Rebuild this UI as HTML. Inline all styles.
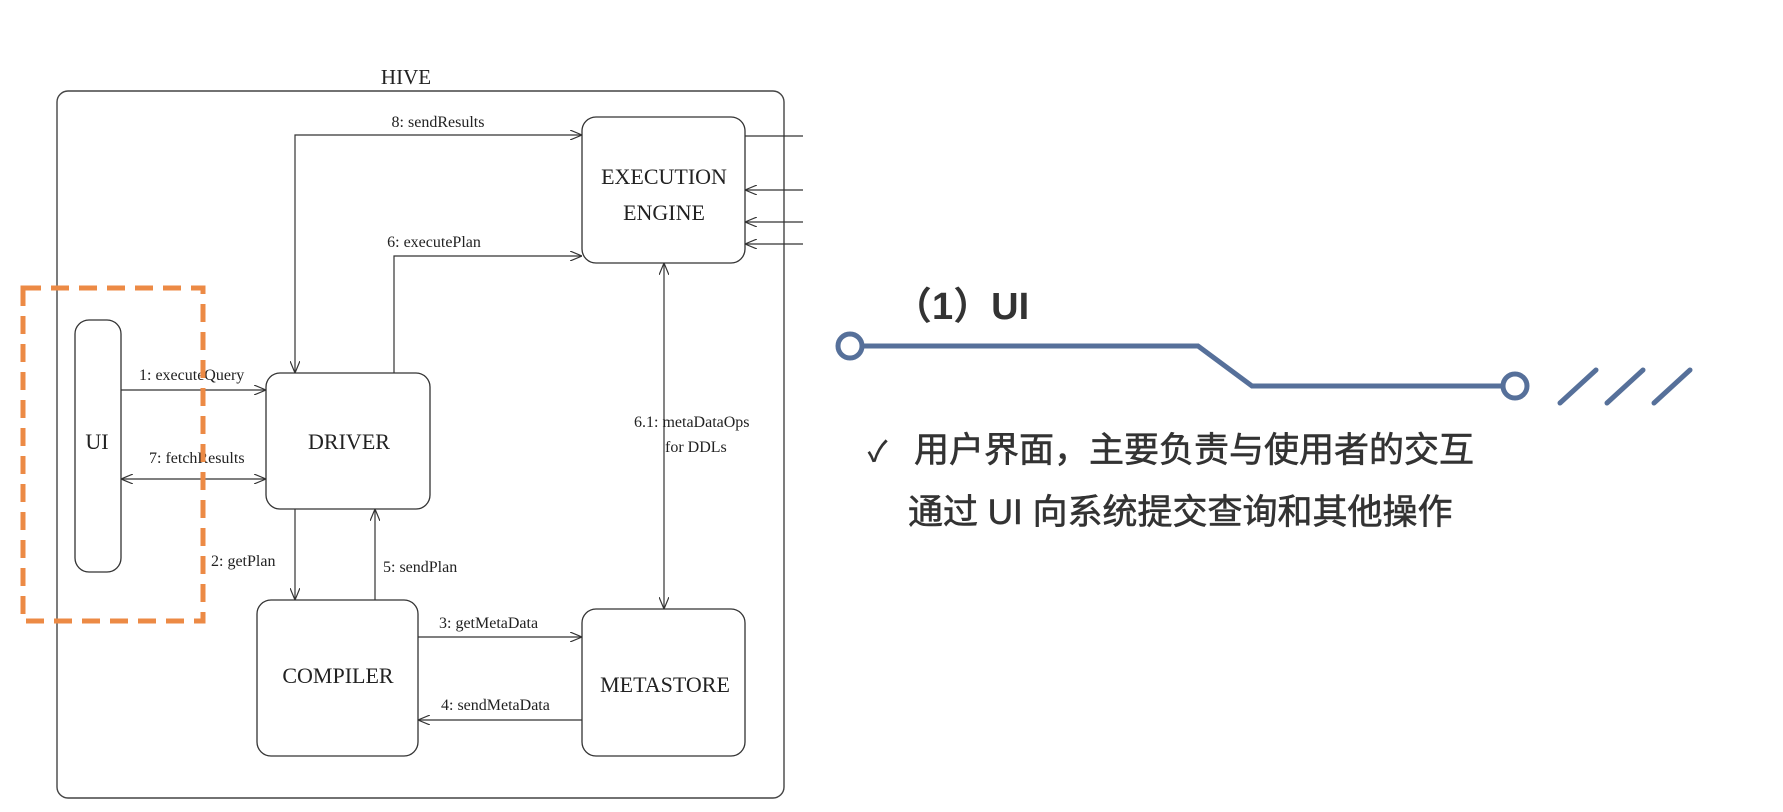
<!DOCTYPE html>
<html><head><meta charset="utf-8"><style>
html,body{margin:0;padding:0;background:#fff;}
svg{display:block;}
</style></head><body>
<svg width="1783" height="812" viewBox="0 0 1783 812" xmlns="http://www.w3.org/2000/svg">
<defs>
<marker id="a" viewBox="0 0 12 10" refX="12" refY="5" markerWidth="12" markerHeight="10" markerUnits="userSpaceOnUse" orient="auto-start-reverse">
<path d="M0,0 L12,5 L0,10" fill="none" stroke="#333" stroke-width="1.2"/>
</marker>
</defs>
<g font-family="'Liberation Serif', serif" fill="#222">
<text x="406" y="84" font-size="21" text-anchor="middle">HIVE</text>
<rect x="57" y="91" width="727" height="707" rx="11" fill="none" stroke="#444" stroke-width="1.4"/>
<g fill="none" stroke="#333" stroke-width="1.3">
<rect x="582" y="117" width="163" height="146" rx="14"/>
<rect x="266" y="373" width="164" height="136" rx="14"/>
<rect x="257" y="600" width="161" height="156" rx="14"/>
<rect x="582" y="609" width="163" height="147" rx="14"/>
<rect x="75" y="320" width="46" height="252" rx="14"/>
</g>
<g fill="none" stroke="#333" stroke-width="1.2">
<path d="M295,373 L295,135 L582,135" marker-start="url(#a)" marker-end="url(#a)"/>
<path d="M745,136 L803,136"/>
<path d="M803,190 L745,190" marker-end="url(#a)"/>
<path d="M803,222 L745,222" marker-end="url(#a)"/>
<path d="M803,244 L745,244" marker-end="url(#a)"/>
<path d="M394,373 L394,256 L582,256" marker-end="url(#a)"/>
<path d="M664,263 L664,609" marker-start="url(#a)" marker-end="url(#a)"/>
<path d="M121,390 L266,390" marker-end="url(#a)"/>
<path d="M121,479 L266,479" marker-start="url(#a)" marker-end="url(#a)"/>
<path d="M295,509 L295,600" marker-end="url(#a)"/>
<path d="M375,600 L375,509" marker-end="url(#a)"/>
<path d="M418,637 L582,637" marker-end="url(#a)"/>
<path d="M582,720 L418,720" marker-end="url(#a)"/>
</g>
<g font-size="16">
<text x="438" y="127" text-anchor="middle">8: sendResults</text>
<text x="434" y="247" text-anchor="middle">6: executePlan</text>
<text x="634" y="427">6.1: metaDataOps</text>
<text x="665" y="452">for DDLs</text>
<text x="139" y="380">1: executeQuery</text>
<text x="149" y="463">7: fetchResults</text>
<text x="211" y="566">2: getPlan</text>
<text x="383" y="572">5: sendPlan</text>
<text x="439" y="628">3: getMetaData</text>
<text x="441" y="710">4: sendMetaData</text>
</g>
<g font-size="22" text-anchor="middle">
<text x="664" y="184">EXECUTION</text>
<text x="664" y="220">ENGINE</text>
<text x="349" y="449">DRIVER</text>
<text x="338" y="683">COMPILER</text>
<text x="665" y="692">METASTORE</text>
<text x="97" y="449">UI</text>
</g>
</g>
<rect x="23" y="288" width="180" height="333" fill="none" stroke="#ec8a45" stroke-width="5" stroke-dasharray="18,10"/>
<g stroke="#56709a" stroke-width="5" fill="none" stroke-linecap="round">
<circle cx="850" cy="346" r="12" fill="#fff"/>
<path d="M862,346 L1198,346 L1252,386 L1503,386"/>
<circle cx="1515" cy="386" r="12" fill="#fff"/>
<path d="M1560,403 L1596,370 M1607,403 L1643,370 M1654,403 L1690,370"/>
</g>
<text x="894" y="319" font-family="'Liberation Sans','Noto Sans CJK SC',sans-serif" font-size="38" font-weight="bold" fill="#333">（1）UI</text>
<g font-family="'Liberation Sans','Noto Sans CJK SC',sans-serif" font-size="35" fill="#333" stroke="#333" stroke-width="0.6">
<text x="868" y="461" font-size="28">✓</text>
<text x="914" y="462">用户界面，主要负责与使用者的交互</text>
<text x="908" y="524">通过 UI 向系统提交查询和其他操作</text>
</g>
</svg>
</body></html>
